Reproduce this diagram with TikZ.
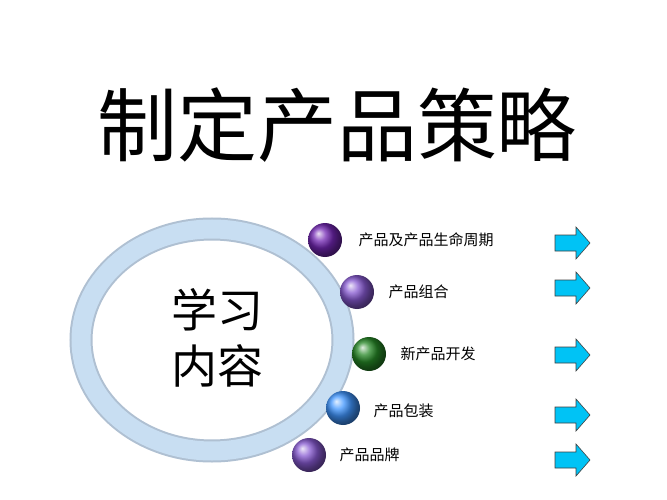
\documentclass[tikz,border=0pt]{standalone}
\usepackage{fontspec}
\newfontfamily\cjk{Noto Sans CJK SC}
\definecolor{ringc}{RGB}{200,222,242}
\definecolor{ringe}{RGB}{175,192,210}
\definecolor{arrc}{RGB}{0,195,245}
\tikzset{
 ball/.style={circle,minimum size=34pt,inner sep=0pt,shading=ball,ball color=#1},
 lab/.style={font=\cjk\fontsize{15}{15}\selectfont,anchor=west},
 arr/.style={draw=black!75,fill=arrc,line width=0.6pt}
}
\newcommand{\blockarrow}[2]{\draw[arr] (#1-18,#2-8) -- (#1+3,#2-8) -- (#1+3,#2-16) -- (#1+17,#2) -- (#1+3,#2+16) -- (#1+3,#2+8) -- (#1-18,#2+8) -- cycle;}
\begin{document}
\begin{tikzpicture}[x=1pt,y=-1pt]
\useasboundingbox (0,0) rectangle (667,500);
\fill[white] (0,0) rectangle (667,500);
\node[font=\cjk\fontsize{80}{80}\selectfont] (title) at (337,125) {制定产品策略};
\draw[ringe,line width=23pt] (212,340) ellipse [x radius=131,y radius=111];
\draw[ringc,line width=19pt] (212,340) ellipse [x radius=131,y radius=111];
\node[font=\cjk\fontsize{46}{56}\selectfont,align=center] (center) at (217,338) {学习\\内容};
\node[ball=violet!70!blue!85!white] (b1) at (325,240) {};
\node[ball=blue!45!violet!65!white] (b2) at (357,292) {};
\node[ball=green!45!black!85!white] (b3) at (369,354) {};
\node[ball=cyan!45!blue!75!white] (b4) at (343,408) {};
\node[ball=blue!45!violet!65!white] (b5) at (309,455) {};
\node[lab] (t1) at (355,240) {产品及产品生命周期};
\node[lab] (t2) at (385,292) {产品组合};
\node[lab] (t3) at (397,354) {新产品开发};
\node[lab] (t4) at (370,411) {产品包装};
\node[lab] (t5) at (336,455) {产品品牌};
\blockarrow{573}{243}
\blockarrow{573}{288}
\blockarrow{573}{355}
\blockarrow{573}{415}
\blockarrow{573}{460}
\end{tikzpicture}
\end{document}
